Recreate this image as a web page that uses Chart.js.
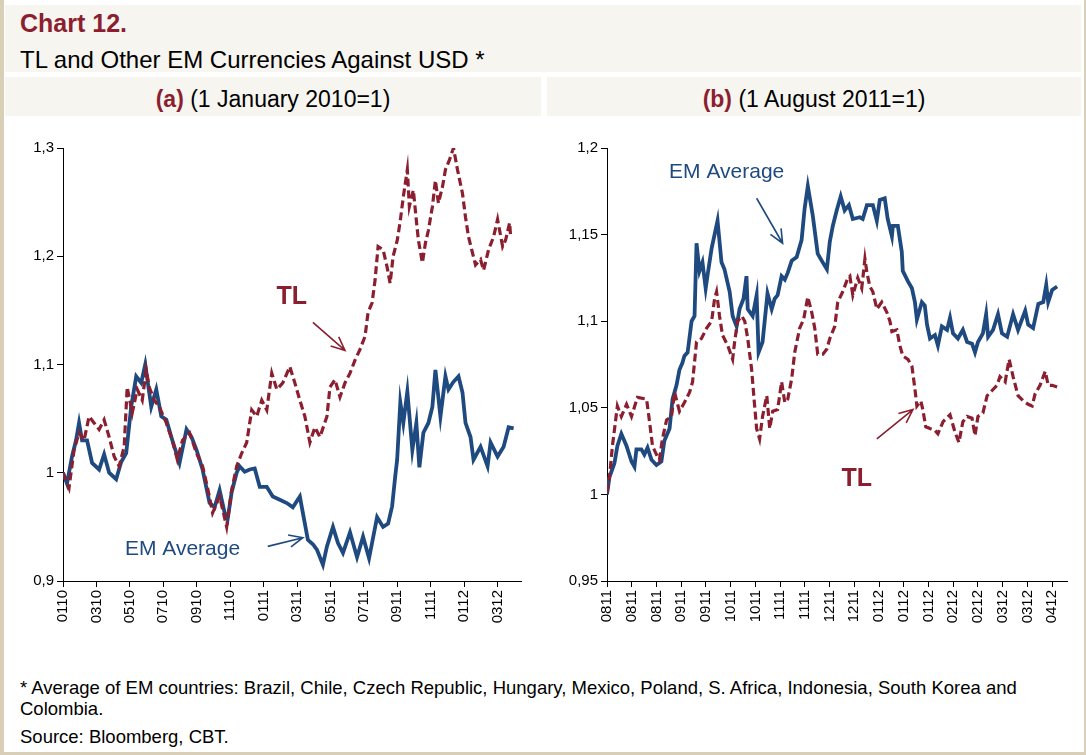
<!DOCTYPE html>
<html>
<head>
<meta charset="utf-8">
<script src="https://cdn.jsdelivr.net/npm/chart.js@4.4.1/dist/chart.umd.min.js"></script>
<style>
  body { margin:0; width:1086px; height:755px; background:#fff; position:relative; overflow:hidden;
         font-family:"Liberation Sans", Arial, sans-serif; color:#000; }
  .edge { position:absolute; background:#d8cfb6; }
  #head { position:absolute; left:5px; top:5px; width:1076px; height:67px; background:#f6f5f0; }
  #head .t1 { position:absolute; left:15px; top:6px; font-size:25px; line-height:25px; font-weight:bold; color:#8b1f30; white-space:nowrap; }
  #head .t2 { position:absolute; left:15px; top:43px; font-size:24px; line-height:24px; white-space:nowrap; }
  .band { position:absolute; top:77px; height:36px; padding-top:3px; background:#f6f5f0; text-align:center; font-size:23px; line-height:39px; white-space:nowrap; }
  .band b { color:#8b1f30; }
  #bandA { left:5px; width:536px; }
  #bandB { left:547px; width:534px; }
  canvas { position:absolute; top:120px; }
  #cA { left:0; }
  #cB { left:543px; }
  .foot { position:absolute; left:20px; font-size:18.5px; line-height:18.5px; white-space:nowrap; }
</style>
</head>
<body>
<div class="edge" style="left:0;top:0;width:4px;height:755px"></div>
<div class="edge" style="left:1084px;top:0;width:2px;height:755px"></div>
<div class="edge" style="left:0;top:752px;width:1086px;height:3px"></div>

<div id="head">
  <div class="t1">Chart 12.</div>
  <div class="t2">TL and Other EM Currencies Against USD *</div>
</div>
<div class="band" id="bandA"><b>(a)</b> (1 January 2010=1)</div>
<div class="band" id="bandB"><b>(b)</b> (1 August 2011=1)</div>

<canvas id="cA" width="543" height="535"></canvas>
<canvas id="cB" width="543" height="535"></canvas>

<div class="foot" style="top:679px">* Average of EM countries: Brazil, Chile, Czech Republic, Hungary, Mexico, Poland, S. Africa, Indonesia, South Korea and</div>
<div class="foot" style="top:700px">Colombia.</div>
<div class="foot" style="top:728px">Source: Bloomberg, CBT.</div>

<script>
// ---- panel (a): x = months since 1 Jan 2010 ----
let ticksA = ['0110','0310','0510','0710','0910','1110','0111','0311','0511','0711','0911','1111','0112','0312'];

let monthsEmA = [0,0.24,0.54,0.78,0.96,1.14,1.44,1.74,2.16,2.46,
  2.76,3.18,3.48,3.78,4.08,4.38,4.68,4.92,5.28,5.58,
  5.88,6.18,6.54,6.97,7.39,7.69,7.99,8.35,8.77,9.07,
  9.37,9.67,9.85,10.09,10.39,10.57,10.87,11.17,11.47,11.77,
  12.19,12.55,12.97,13.39,13.75,14.17,14.35,14.65,14.95,15.19,
  15.55,15.79,16.15,16.45,16.75,17.17,17.59,17.95,18.31,18.79,
  19.15,19.45,19.69,19.87,19.99,20.18,20.36,20.6,20.9,21.14,
  21.32,21.56,21.86,22.1,22.28,22.58,22.88,23.06,23.36,23.66,
  23.9,24.08,24.38,24.56,24.98,25.4,25.58,26.0,26.36,26.66,
  26.96];
let emA = [1.000,0.990,1.015,1.030,1.046,1.030,1.030,1.009,1.003,1.017,
  1.000,0.994,1.010,1.018,1.061,1.089,1.083,1.100,1.061,1.077,
  1.052,1.049,1.030,1.009,1.040,1.033,1.021,1.003,0.972,0.968,
  0.984,0.963,0.957,0.982,1.000,1.006,1.001,1.003,1.004,0.987,
  0.987,0.978,0.975,0.972,0.968,0.978,0.963,0.938,0.934,0.929,
  0.915,0.932,0.950,0.935,0.926,0.945,0.922,0.941,0.921,0.959,
  0.950,0.953,0.969,0.996,1.012,1.065,1.046,1.075,1.021,1.046,
  1.005,1.037,1.046,1.061,1.095,1.052,1.089,1.077,1.084,1.089,
  1.074,1.046,1.033,1.012,1.024,1.006,1.028,1.015,1.024,1.042,
  1.041];

let monthsTlA = [0,0.36,0.66,0.96,1.26,1.56,1.86,2.16,2.46,2.76,
  3.06,3.36,3.66,3.84,4.14,4.44,4.74,4.98,5.16,5.46,
  5.76,6.18,6.54,6.84,7.15,7.57,7.99,8.35,8.65,8.95,
  9.37,9.79,10.09,10.39,10.69,10.99,11.29,11.59,11.89,12.19,
  12.49,12.79,13.15,13.57,13.87,14.17,14.47,14.77,15.07,15.37,
  15.79,15.97,16.27,16.57,16.87,17.17,17.47,17.77,18.07,18.25,
  18.49,18.67,18.85,19.15,19.39,19.57,19.75,20.0,20.18,20.36,
  20.6,20.72,20.96,21.14,21.26,21.5,21.68,21.86,22.1,22.28,
  22.46,22.7,22.88,23.12,23.36,23.6,23.9,24.08,24.26,24.5,
  24.68,24.98,25.16,25.46,25.76,26.0,26.3,26.48,26.72,26.78];
let tlA = [1.000,0.986,1.021,1.037,1.030,1.052,1.046,1.040,1.049,1.033,
  1.015,1.006,1.024,1.079,1.055,1.077,1.067,1.095,1.079,1.067,
  1.061,1.046,1.030,1.012,1.030,1.037,1.018,1.006,0.986,0.963,
  0.978,0.950,0.984,1.006,1.018,1.028,1.058,1.052,1.067,1.058,
  1.092,1.077,1.083,1.098,1.083,1.067,1.052,1.028,1.042,1.033,
  1.052,1.079,1.086,1.070,1.083,1.092,1.104,1.114,1.126,1.148,
  1.157,1.178,1.209,1.206,1.190,1.175,1.200,1.215,1.233,1.255,
  1.280,1.246,1.261,1.233,1.215,1.194,1.212,1.224,1.246,1.270,
  1.249,1.264,1.280,1.289,1.300,1.280,1.258,1.236,1.218,1.203,
  1.192,1.197,1.187,1.206,1.218,1.234,1.209,1.215,1.231,1.218];

// ---- panel (b): x = business days since 1 Aug 2011 ----
let ticksB = ['0811','0811','0811','0911','0911','1011','1011','1111','1111','1211',
  '1211','0112','0112','0112','0212','0212','0312','0312','0412'];

let daysEmB = [0,1,3,4.2,5.8,7.9,9.9,11.1,11.9,13.9,
  15.1,16.4,18,20,22,23.2,25.3,26.5,28.1,29.3,
  30.5,31.3,32.6,34.2,35.4,36.2,37.4,38.6,39.9,40.7,
  42.3,44.7,46.3,47.5,49.6,50.8,52.4,53.6,55.2,56.4,
  56.9,58.9,60.5,61.3,62.9,64.9,66.6,67.8,69,70.6,
  71.9,73.1,74.7,76.7,78.7,79.9,81.2,83.2,85.2,86.8,
  88.9,90.1,91.3,92.9,94.5,96.1,97.8,99.4,102.2,103.4,
  105.1,107.5,109.1,110.3,112.3,113.5,115.2,115.6,117.6,119.2,
  119.6,121.7,123.3,124.5,125.3,127.3,128.5,129.4,130.6,132.6,
  133.8,135.4,137.5,138.7,139.9,141.9,143.9,145.6,147.6,148.8,
  150,152,153.3,154.1,156.1,158.1,159.7,161.8,164.2,166.2,
  169.1,170.3,172.3,174.4,176.4,177.6,178.4,180,182];
let emB = [1.000,1.010,1.018,1.028,1.035,1.028,1.019,1.016,1.026,1.026,
  1.023,1.027,1.020,1.017,1.019,1.031,1.038,1.055,1.063,1.072,
  1.076,1.080,1.082,1.100,1.103,1.145,1.129,1.134,1.119,1.127,
  1.142,1.158,1.134,1.130,1.117,1.103,1.097,1.107,1.113,1.126,
  1.107,1.103,1.115,1.082,1.088,1.116,1.107,1.113,1.115,1.126,
  1.124,1.128,1.135,1.137,1.147,1.165,1.178,1.161,1.139,1.135,
  1.130,1.146,1.155,1.164,1.172,1.164,1.167,1.159,1.160,1.159,
  1.167,1.167,1.158,1.170,1.171,1.159,1.149,1.155,1.155,1.140,
  1.129,1.123,1.119,1.111,1.101,1.111,1.109,1.098,1.090,1.092,
  1.086,1.097,1.095,1.102,1.093,1.090,1.095,1.088,1.087,1.082,
  1.088,1.093,1.104,1.091,1.095,1.104,1.093,1.091,1.104,1.095,
  1.106,1.098,1.096,1.110,1.111,1.121,1.111,1.118,1.120];

let daysTlB = [0,1,2.2,4.2,5.8,7.9,9.9,12.3,16,17.2,
  18.4,20,21.2,22.4,24.1,26.1,27.3,29.3,31.3,33.4,
  34.6,36.2,38.2,40.3,42.3,43.5,44.3,45.5,46.7,48.8,
  50.8,51.6,52.8,54.5,55.7,56.9,58.5,59.7,60.5,61.7,
  62.9,64.6,65.8,67,69,70.6,71.9,73.1,74.7,75.9,
  77.9,79.5,81.2,82.8,84,85.2,87.3,88.9,90.1,92.1,
  93.3,95.3,97.4,98.2,99.4,101.4,103,104.3,105.1,106.3,
  107.5,109.1,111.1,113.2,114.4,115.2,117.2,118.4,119.6,121.7,
  123.3,124.5,125.3,126.9,127.7,128.9,130.6,132.6,133.8,135.9,
  138.7,140.7,142.3,143.9,145.6,147.6,148.8,150,152,153.7,
  155.7,157.7,158.9,161,162.6,164.2,166.2,168.3,170.3,171.9,
  173.1,175.1,177.2,178.4,180,182];
let tlB = [1.001,1.010,1.028,1.051,1.045,1.052,1.045,1.056,1.055,1.042,
  1.028,1.023,1.020,1.032,1.043,1.045,1.059,1.048,1.053,1.059,
  1.065,1.088,1.090,1.096,1.100,1.113,1.117,1.103,1.092,1.086,
  1.078,1.088,1.100,1.103,1.100,1.090,1.072,1.051,1.038,1.032,
  1.045,1.057,1.038,1.048,1.049,1.065,1.053,1.055,1.067,1.082,
  1.096,1.101,1.114,1.105,1.096,1.081,1.081,1.084,1.090,1.097,
  1.111,1.117,1.125,1.126,1.115,1.125,1.119,1.136,1.128,1.120,
  1.117,1.107,1.111,1.105,1.100,1.094,1.095,1.086,1.080,1.078,
  1.074,1.061,1.051,1.054,1.049,1.039,1.038,1.037,1.035,1.042,
  1.046,1.036,1.030,1.042,1.045,1.044,1.034,1.045,1.047,1.057,
  1.060,1.063,1.068,1.065,1.078,1.068,1.057,1.054,1.052,1.051,
  1.058,1.063,1.071,1.063,1.063,1.062];

let blue = '#1f4a80';
let red = '#8b1f30';

function pairs(xs, ys) {
  return xs.map((x, i) => ({x: x, y: ys[i]}));
}
function comma(v) {
  return String(+v.toFixed(2)).replace('.', ',');
}

// text labels and arrows placed in data coordinates
const notesPlugin = {
  id: 'notes',
  afterDatasetsDraw(chart, args, opts) {
    const ctx = chart.ctx, sx = chart.scales.x, sy = chart.scales.y;
    ctx.save();
    (opts.arrows || []).forEach(a => {
      let x0 = sx.getPixelForValue(a.from[0]), y0 = sy.getPixelForValue(a.from[1]);
      let x1 = sx.getPixelForValue(a.to[0]), y1 = sy.getPixelForValue(a.to[1]);
      let ang = Math.atan2(y1 - y0, x1 - x0), L = 15;
      ctx.strokeStyle = a.color;
      ctx.lineWidth = 1.6;
      ctx.beginPath();
      ctx.moveTo(x0, y0);
      ctx.lineTo(x1, y1);
      ctx.moveTo(x1 - L * Math.cos(ang - 0.42), y1 - L * Math.sin(ang - 0.42));
      ctx.lineTo(x1, y1);
      ctx.lineTo(x1 - L * Math.cos(ang + 0.42), y1 - L * Math.sin(ang + 0.42));
      ctx.stroke();
    });
    (opts.labels || []).forEach(l => {
      ctx.font = l.font;
      ctx.fillStyle = l.color;
      ctx.textAlign = 'center';
      ctx.textBaseline = 'middle';
      ctx.fillText(l.text, sx.getPixelForValue(l.at[0]), sy.getPixelForValue(l.at[1]));
    });
    ctx.restore();
  }
};

function makeChart(id, tl, em, xMax, step, tickNames, yMin, yMax, yStep, yWidth, padRight, notes) {
  return new Chart(document.getElementById(id).getContext('2d'), {
    type: 'line',
    data: {
      datasets: [{
        label: 'TL',
        data: tl,
        borderColor: red,
        borderWidth: 3.2,
        borderDash: [8, 4],
        pointRadius: 0,
        tension: 0
      }, {
        label: 'EM Average',
        data: em,
        borderColor: blue,
        borderWidth: 3.8,
        pointRadius: 0,
        tension: 0
      }]
    },
    options: {
      responsive: false,
      animation: false,
      events: [],
      layout: { padding: { top: 28, right: padRight, bottom: 14, left: 0 } },
      plugins: { legend: { display: false }, tooltip: { enabled: false }, notes: notes },
      scales: {
        x: {
          type: 'linear',
          min: 0,
          max: xMax,
          afterFit: s => { s.height = 60; },
          border: { display: true, color: '#000', width: 1 },
          grid: { drawOnChartArea: false, drawTicks: true, tickLength: 6, color: '#000' },
          ticks: {
            stepSize: step,
            includeBounds: false,
            autoSkip: false,
            minRotation: 90,
            maxRotation: 90,
            color: '#000',
            font: { family: 'Liberation Sans', size: 15 },
            callback: v => {
              let k = v / step;
              return (Number.isInteger(k) && tickNames[k] !== undefined) ? tickNames[k] : null;
            }
          }
        },
        y: {
          min: yMin,
          max: yMax,
          afterFit: s => { s.width = yWidth; },
          border: { display: true, color: '#000', width: 1 },
          grid: { drawOnChartArea: false, drawTicks: true, tickLength: 6, color: '#000' },
          ticks: {
            stepSize: yStep,
            color: '#000',
            font: { family: 'Liberation Sans', size: 15 },
            callback: v => comma(v)
          }
        }
      }
    },
    plugins: [notesPlugin]
  });
}

makeChart('cA', pairs(monthsTlA, tlA), pairs(monthsEmA, emA), 27.4, 2, ticksA, 0.9, 1.3, 0.1, 63, 22, {
  labels: [
    { text: 'TL', at: [13.69, 1.162], color: red, font: 'bold 25px "Liberation Sans"' },
    { text: 'EM Average', at: [7.15, 0.929], color: blue, font: '21px "Liberation Sans"' }
  ],
  arrows: [
    { from: [14.95, 1.139], to: [16.87, 1.113], color: red },
    { from: [12.25, 0.932], to: [14.35, 0.940], color: blue }
  ]
});

makeChart('cB', pairs(daysTlB, tlB), pairs(daysEmB, emB), 186, 10, ticksB, 0.95, 1.2, 0.05, 64, 19, {
  labels: [
    { text: 'EM Average', at: [48.4, 1.186], color: blue, font: '21px "Liberation Sans"' },
    { text: 'TL', at: [101, 1.009], color: red, font: 'bold 25px "Liberation Sans"' }
  ],
  arrows: [
    { from: [60.5, 1.171], to: [71.0, 1.145], color: blue },
    { from: [109.1, 1.032], to: [123.7, 1.049], color: red }
  ]
});
</script>
</body>
</html>
